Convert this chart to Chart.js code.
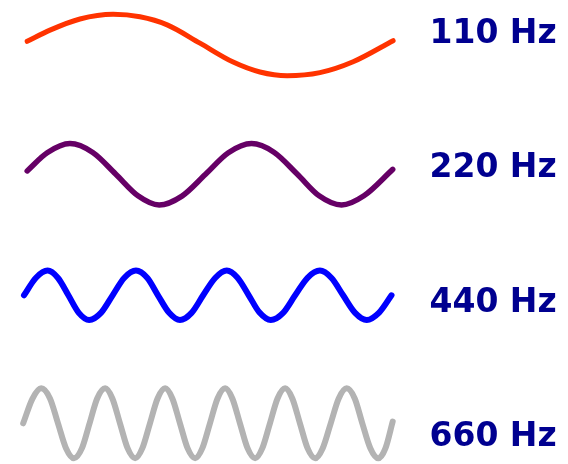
<!DOCTYPE html>
<html>
<head>
<meta charset="utf-8">
<script src="https://cdn.jsdelivr.net/npm/chart.js@4/dist/chart.umd.min.js"></script>
<style>
  html, body { margin: 0; padding: 0; background: #ffffff; }
  #wrap { width: 568px; height: 464px; }
</style>
</head>
<body>
<div id="wrap"><canvas id="c" width="568" height="464"></canvas></div>
<script>
// Tick labels (one per wave)
const waveLabels = ['110 Hz', '220 Hz', '440 Hz', '660 Hz'];

const t110 = [0.08, 0.65, 1.40, 2.23, 2.90, 3.58, 4.40, 5.23, 5.90, 6.58, 7.40, 8.23, 9.23];
const a110 = [0.12, 0.48, 0.84, 0.99, 0.91, 0.65, 0.06, -0.55, -0.87, -0.99, -0.89, -0.54, 0.14];

const t220 = [0.08, 0.58, 1.15, 1.72, 2.29, 2.85, 3.38, 3.95, 4.54, 5.11, 5.69, 6.25, 6.83, 7.38, 7.94, 8.50, 9.22];
const a220 = [0.11, 0.70, 1.00, 0.71, 0.01, -0.70, -1.00, -0.71, 0.00, 0.70, 1.00, 0.72, 0.01, -0.70, -1.00, -0.70, 0.16];

const t440 = [0.00, 0.30, 0.59, 0.85, 1.11, 1.37, 1.63, 1.93, 2.22, 2.51, 2.80, 3.08, 3.35, 3.63, 3.90, 4.19, 4.48,
              4.78, 5.07, 5.34, 5.62, 5.89, 6.17, 6.48, 6.78, 7.09, 7.40, 7.69, 7.98, 8.28, 8.57, 8.88, 9.19];
const a440 = [0.00, 0.71, 1.00, 0.70, 0.00, -0.71, -1.00, -0.70, 0.01, 0.71, 1.00, 0.71, 0.00, -0.71, -1.00, -0.71, 0.00,
              0.70, 1.00, 0.71, 0.00, -0.70, -1.00, -0.71, 0.00, 0.71, 1.00, 0.70, 0.00, -0.71, -1.00, -0.70, 0.00];

const t660 = [-0.02, 0.21, 0.43, 0.65, 0.85, 1.05, 1.25, 1.45, 1.64, 1.83, 2.03, 2.21, 2.40, 2.59, 2.78, 2.96, 3.15,
              3.34, 3.53, 3.71, 3.90, 4.09, 4.28, 4.46, 4.65, 4.84, 5.03, 5.21, 5.40, 5.59, 5.78, 5.96, 6.15,
              6.34, 6.53, 6.71, 6.90, 7.09, 7.28, 7.47, 7.67, 7.87, 8.07, 8.27, 8.46, 8.66, 8.86, 9.04, 9.22];
const a660 = [0.00, 0.70, 1.00, 0.71, 0.00, -0.71, -1.00, -0.71, 0.00, 0.71, 1.00, 0.71, 0.00, -0.71, -1.00, -0.71, 0.00,
              0.71, 1.00, 0.71, 0.00, -0.71, -1.00, -0.71, 0.00, 0.71, 1.00, 0.71, 0.00, -0.71, -1.00, -0.71, 0.00,
              0.71, 1.00, 0.71, 0.00, -0.71, -1.00, -0.71, 0.00, 0.71, 1.00, 0.71, 0.00, -0.71, -1.00, -0.71, 0.05];

const times = [t110, t220, t440, t660];
const amps = [a110, a220, a440, a660];
const colors = ['#FF3300', '#660066', '#0000FF', '#B3B3B3'];
const widths = [5, 5.5, 6, 6];

// per-axis layout (band weight, range, label tick position)
const axisCfg = [
  { weight: 110, min: -2.097, max: 1.452, labelAt: 0.33 },
  { weight: 125, min: -1.977, max: 2.094, labelAt: 0.18 },
  { weight: 125, min: -2.619, max: 2.441, labelAt: -0.34 },
  { weight: 104, min: -1.163, max: 1.809, labelAt: -0.40 }
];
const labelColumnWidth = 138.5;

const datasets = times.map((ts, i) => ({
  label: waveLabels[i],
  data: ts.map((t, j) => ({ x: t, y: amps[i][j] })),
  yAxisID: 'y' + i,
  borderColor: colors[i],
  borderWidth: widths[i],
  borderCapStyle: 'round',
  borderJoinStyle: 'round',
  cubicInterpolationMode: 'monotone',
  pointRadius: 0,
  fill: false,
  clip: 10
}));

const scales = {
  x: { type: 'linear', min: -0.6, max: 10.14, display: false }
};
axisCfg.forEach((a, i) => {
  scales['y' + i] = {
    type: 'linear',
    position: 'right',
    stack: 'waves',
    stackWeight: a.weight,
    min: a.min,
    max: a.max,
    grid: { display: false, drawTicks: false },
    border: { display: false },
    afterBuildTicks: (axis) => { axis.ticks = [{ value: a.labelAt }]; },
    afterFit: (axis) => {
      axis.width = labelColumnWidth;
      axis.paddingTop = 0;
      axis.paddingBottom = 0;
    },
    ticks: {
      padding: 0,
      color: '#000090',
      font: { family: 'DejaVu Sans', weight: 'bold', size: 33 },
      callback: () => waveLabels[i]
    }
  };
});

new Chart(document.getElementById('c'), {
  type: 'line',
  data: { datasets },
  options: {
    responsive: false,
    devicePixelRatio: 1,
    animation: false,
    layout: { padding: 0 },
    plugins: { legend: { display: false }, tooltip: { enabled: false } },
    scales
  }
});
</script>
</body>
</html>
